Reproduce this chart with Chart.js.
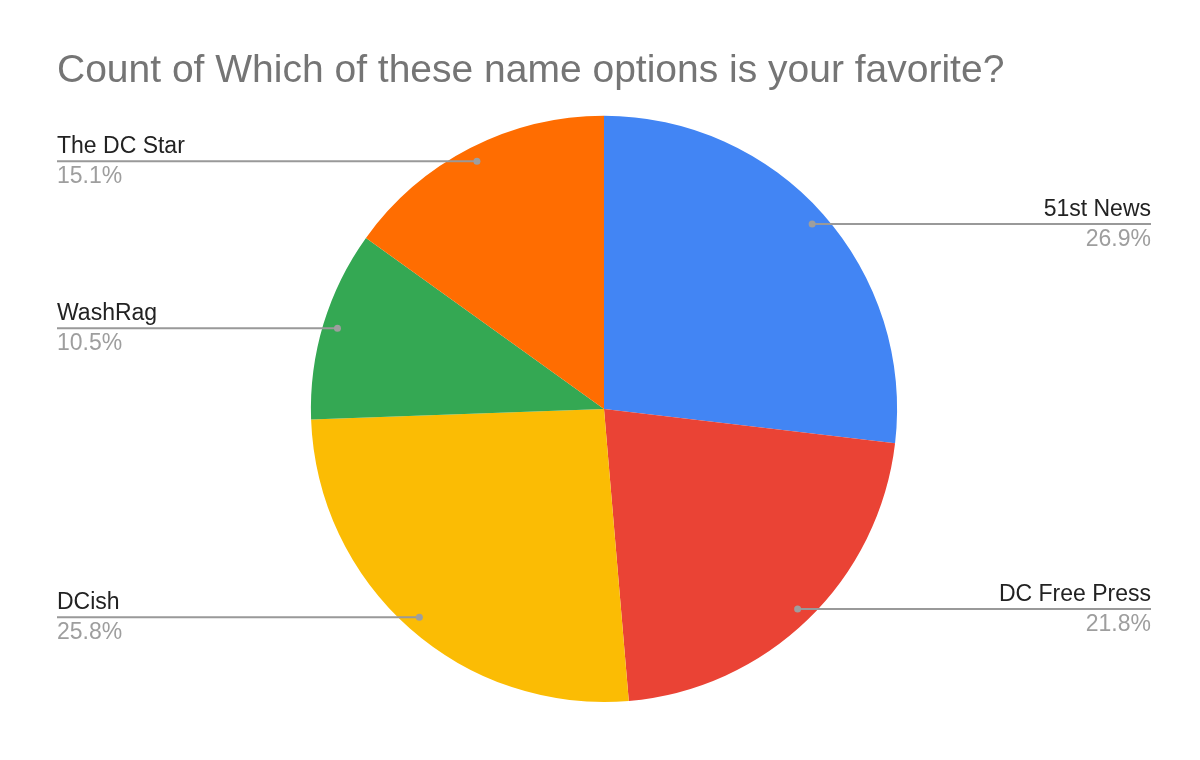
<!DOCTYPE html>
<html>
<head>
<meta charset="utf-8">
<script src="https://cdn.jsdelivr.net/npm/chart.js@4"></script>
<style>
  html, body { margin: 0; padding: 0; background: #fff; }
  #wrap { width: 1200px; height: 760px; }
</style>
</head>
<body>
<div id="wrap"><canvas id="pie"></canvas></div>
<script>
// data (percent of responses)
const names = ['51st News', 'DC Free Press', 'DCish', 'WashRag', 'The DC Star'];
const shares = [26.9, 21.8, 25.8, 10.5, 15.1];
const sliceColors = ['#4285F4', '#EA4335', '#FBBC04', '#34A853', '#FF6D01'];

const FONT = '"Liberation Sans", Arial, Helvetica, sans-serif';

// leader lines with name above and percentage below
const leaderLabels = {
    id: 'leaderLabels',
    afterDatasetsDraw(chart) {
        const ctx = chart.ctx;
        const area = chart.chartArea;
        const arcs = chart.getDatasetMeta(0).data;
        const total = shares.reduce((a, b) => a + b, 0);
        ctx.save();
        arcs.forEach((arc, i) => {
            const mid = (arc.startAngle + arc.endAngle) / 2;
            const r = arc.outerRadius * 0.95;
            const px = arc.x + Math.cos(mid) * r;
            const py = arc.y + Math.sin(mid) * r;
            const right = Math.cos(mid) >= 0;
            const endX = right ? area.right : area.left;

            ctx.strokeStyle = '#999999';
            ctx.lineWidth = 2;
            ctx.beginPath();
            ctx.moveTo(px, py);
            ctx.lineTo(endX, py);
            ctx.stroke();

            ctx.fillStyle = '#9e9e9e';
            ctx.beginPath();
            ctx.arc(px, py, 3.5, 0, Math.PI * 2);
            ctx.fill();

            ctx.textAlign = right ? 'right' : 'left';
            ctx.textBaseline = 'alphabetic';
            ctx.font = '23px ' + FONT;
            ctx.fillStyle = '#222222';
            ctx.fillText(names[i], endX, py - 8);
            ctx.fillStyle = '#9e9e9e';
            ctx.fillText((shares[i] / total * 100).toFixed(1) + '%', endX, py + 22);
        });
        ctx.restore();
    }
};

new Chart(document.getElementById('pie'), {
    type: 'pie',
    data: {
        labels: names,
        datasets: [{
            data: shares,
            backgroundColor: sliceColors,
            borderWidth: 0
        }]
    },
    options: {
        responsive: true,
        maintainAspectRatio: false,
        animation: false,
        layout: { padding: { top: 48, bottom: 58, left: 57, right: 49 } },
        plugins: {
            legend: { display: false },
            title: {
                display: true,
                text: 'Count of Which of these name options is your favorite?',
                align: 'start',
                color: '#757575',
                font: { family: FONT, size: 39, weight: 'normal' },
                padding: { top: 0, bottom: 21 }
            }
        }
    },
    plugins: [leaderLabels]
});
</script>
</body>
</html>
